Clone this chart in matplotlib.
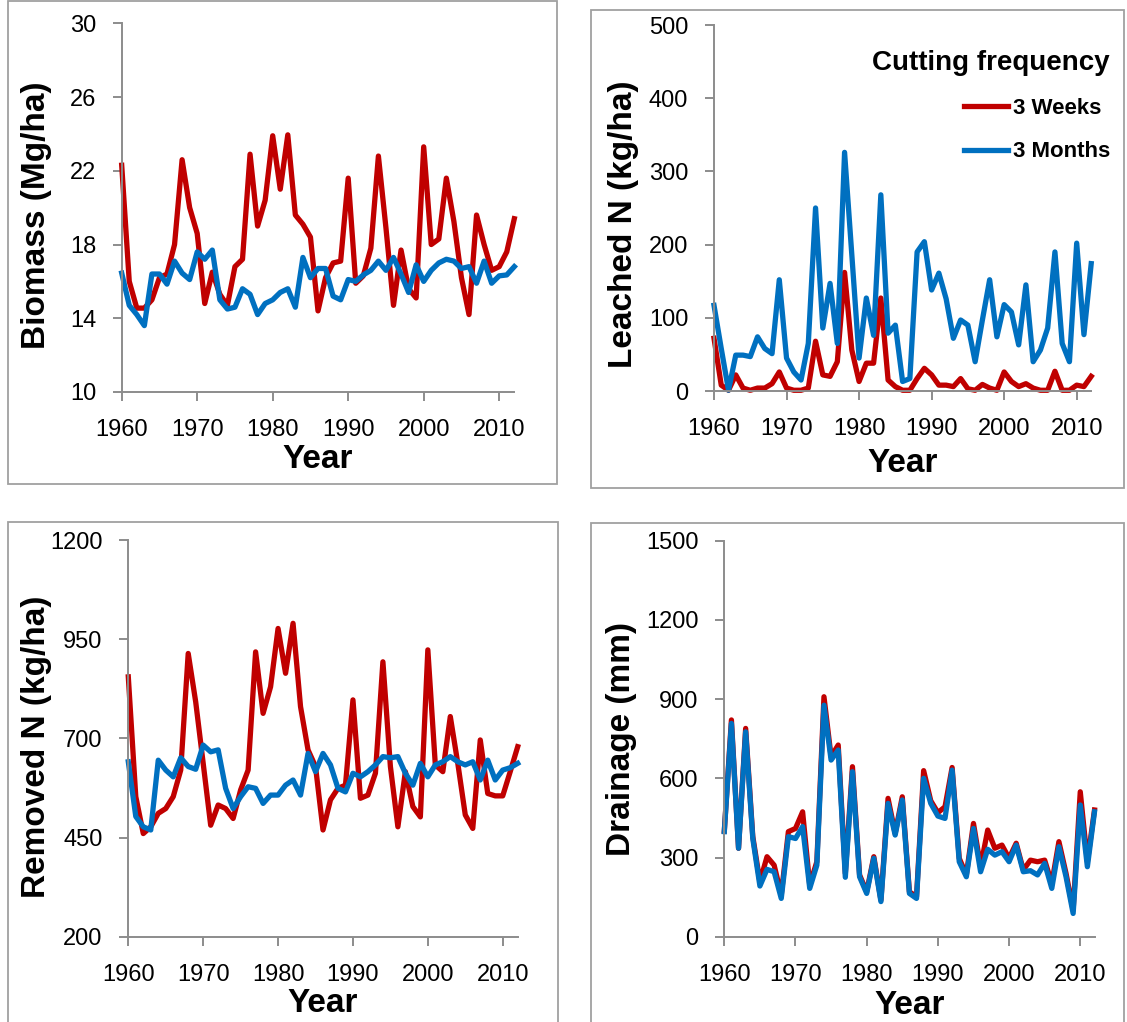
import numpy as np
import matplotlib
matplotlib.use('Agg')
import matplotlib.pyplot as plt
from matplotlib.patches import Rectangle

plt.rcParams['font.family'] = ['Liberation Sans', 'DejaVu Sans']

years = np.arange(1960, 2013)

# Biomass (Mg/ha)
biomass_3w = [22.3, 16.0, 14.55, 14.55, 15.0, 16.2, 16.4, 18.0, 22.6, 20.0,
              18.6, 14.8, 16.5, 15.3, 14.7, 16.8, 17.2, 22.9, 19.0, 20.4,
              23.9, 21.0, 23.95, 19.6, 19.1, 18.4, 14.4, 16.2, 17.0, 17.1,
              21.6, 15.9, 16.3, 17.8, 22.8, 18.9, 14.7, 17.7, 15.6, 15.1,
              23.3, 18.0, 18.3, 21.6, 19.25, 16.2, 14.2, 19.6, 18.0, 16.6,
              16.8, 17.6, 19.4]
biomass_3m = [16.45, 14.7, 14.2, 13.6, 16.4, 16.4, 15.85, 17.1, 16.45, 16.1,
              17.6, 17.2, 17.7, 15.0, 14.5, 14.6, 15.6, 15.3, 14.2, 14.8,
              15.0, 15.4, 15.6, 14.6, 17.3, 16.2, 16.7, 16.7, 15.2, 15.0,
              16.1, 16.0, 16.35, 16.6, 17.1, 16.6, 17.3, 16.4, 15.4, 16.9,
              16.0, 16.6, 17.0, 17.2, 17.1, 16.7, 16.8, 15.9, 17.1, 15.9,
              16.3, 16.35, 16.8]

# Leached N (kg/ha)
leached_3w = [72, 8, 1, 22, 4, 1, 4, 4, 10, 26,
              4, 1, 1, 4, 68, 22, 20, 40, 162, 56,
              13, 38, 38, 127, 15, 6, 1, 1, 17, 31,
              22, 8, 8, 6, 17, 3, 1, 9, 4, 1,
              26, 13, 6, 10, 4, 1, 1, 27, 1, 1,
              8, 6, 20]
leached_3m = [117, 58, 1, 49, 49, 47, 74, 58, 51, 152,
              45, 26, 15, 65, 250, 86, 147, 65, 326, 186,
              45, 127, 76, 268, 79, 90, 13, 17, 190, 204,
              138, 161, 126, 72, 97, 90, 40, 97, 152, 74,
              118, 108, 63, 145, 40, 56, 86, 190, 65, 40,
              202, 77, 174]

# Removed N (kg/ha)
removed_3w = [855, 553, 460, 477, 511, 523, 553, 620, 914, 792,
              637, 481, 532, 523, 498, 570, 620, 918, 763, 830,
              977, 864, 990, 780, 671, 629, 469, 545, 574, 582,
              797, 549, 557, 612, 893, 629, 477, 616, 528, 502,
              923, 633, 616, 755, 637, 507, 473, 696, 561, 555,
              555, 616, 679]
removed_3m = [641, 503, 477, 469, 645, 620, 603, 651, 629, 622,
              683, 666, 671, 574, 523, 553, 578, 574, 536, 557,
              557, 582, 595, 557, 662, 616, 662, 633, 574, 565,
              612, 603, 616, 633, 654, 651, 654, 612, 582, 637,
              603, 633, 641, 654, 641, 633, 641, 595, 645, 595,
              620, 626, 637]

# Drainage (mm)
drainage_3w = [400, 821, 335, 789, 380, 208, 303, 271, 158, 398,
               410, 473, 196, 284, 909, 682, 726, 240, 644, 234,
               170, 303, 139, 524, 391, 530, 170, 152, 629, 515,
               470, 492, 641, 297, 234, 429, 265, 404, 335, 347,
               297, 354, 253, 290, 284, 290, 202, 360, 240, 101,
               549, 284, 480]
drainage_3m = [398, 808, 335, 776, 372, 192, 255, 246, 145, 379,
               372, 417, 183, 271, 877, 669, 707, 225, 625, 227,
               164, 297, 133, 505, 385, 518, 164, 145, 600, 505,
               457, 448, 631, 284, 227, 410, 246, 331, 309, 322,
               284, 347, 246, 250, 234, 278, 183, 341, 227, 88,
               499, 265, 473]

RED = '#C00000'
BLUE = '#0070C0'
GREY = '#8c8c8c'
W, H = 1127, 1022

fig = plt.figure(figsize=(W / 100, H / 100), dpi=100)


def px_axes(x0, x1, ytop, ybot):
    return [x0 / W, 1 - ybot / H, (x1 - x0) / W, (ybot - ytop) / H]


def frame(x0, y0, x1, y1):
    fig.add_artist(Rectangle((x0 / W, 1 - y1 / H), (x1 - x0) / W, (y1 - y0) / H,
                             transform=fig.transFigure, fill=False,
                             ec='#a0a0a0', lw=1.3))


frame(8, 1, 557, 484)
frame(591, 10, 1124, 488)
frame(8, 522, 558, 1030)
frame(591, 523, 1124, 1030)


def make_panel(rect, w3, m3, ylim, yticks, ylabel, ylab_xy, xlab_y):
    ax = fig.add_axes(rect)
    ax.plot(years, w3, color=RED, lw=3.8, label='3 Weeks',
            solid_joinstyle='round', clip_on=False)
    ax.plot(years, m3, color=BLUE, lw=3.8, label='3 Months',
            solid_joinstyle='round', clip_on=False)
    ax.set_xlim(1960, 2012)
    ax.set_ylim(*ylim)
    ax.set_yticks(yticks)
    ax.set_xticks(range(1960, 2011, 10))
    for s in ['top', 'right']:
        ax.spines[s].set_visible(False)
    for s in ['left', 'bottom']:
        ax.spines[s].set_color(GREY)
        ax.spines[s].set_linewidth(1.4)
    ax.tick_params(direction='out', length=6.5, width=1.4, color=GREY,
                   labelsize=17)
    ax.tick_params(axis='y', pad=12)
    ax.tick_params(axis='x', pad=13)
    ax.set_ylabel(ylabel, fontsize=24, fontweight='bold')
    ax.yaxis.set_label_coords(*ylab_xy)
    ax.set_xlabel('Year', fontsize=24, fontweight='bold')
    ax.xaxis.set_label_coords(0.5, xlab_y)
    return ax


ax1 = make_panel(px_axes(121.7, 514.3, 23.3, 392), biomass_3w, biomass_3m,
                 (10, 30), [10, 14, 18, 22, 26, 30], 'Biomass (Mg/ha)',
                 (-0.177, 0.48), -0.14)
ax2 = make_panel(px_axes(714, 1091.2, 25, 391), leached_3w, leached_3m,
                 (0, 500), [0, 100, 200, 300, 400, 500], 'Leached N (kg/ha)',
                 (-0.2, 0.455), -0.155)
ax3 = make_panel(px_axes(128.3, 517.7, 540, 936.7), removed_3w, removed_3m,
                 (200, 1200), [200, 450, 700, 950, 1200], 'Removed N (kg/ha)',
                 (-0.195, 0.478), -0.13)
ax4 = make_panel(px_axes(724.3, 1094.5, 540.7, 936.7), drainage_3w, drainage_3m,
                 (0, 1500), [0, 300, 600, 900, 1200, 1500], 'Drainage (mm)',
                 (-0.235, 0.5), -0.135)

leg = ax2.legend(title='Cutting frequency', loc='upper right',
                 bbox_to_anchor=(1.079, 0.962), frameon=False, borderpad=0,
                 prop={'weight': 'bold', 'size': 16}, handlelength=2.0,
                 handletextpad=0.2, labelspacing=1.0, alignment='right')
leg.get_title().set_fontsize(20)
leg.get_title().set_fontweight('bold')

fig.savefig('out.png', dpi=100)
